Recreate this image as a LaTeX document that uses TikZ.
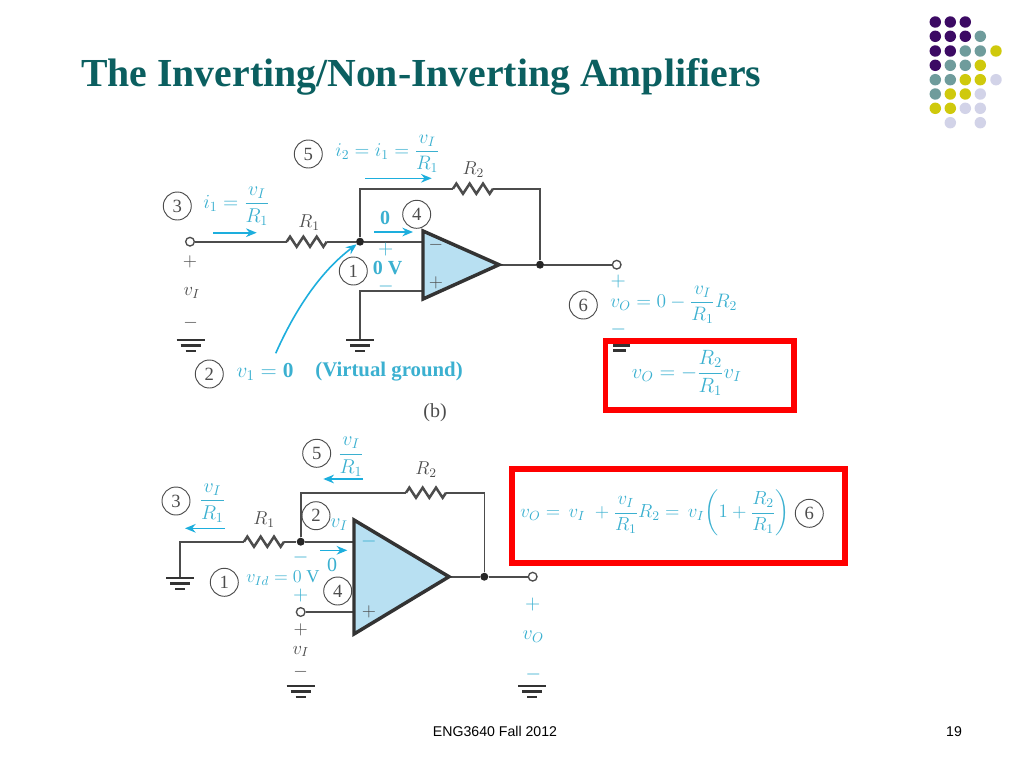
\RequirePackage{fix-cm}
\documentclass[tikz,border=0pt]{standalone}
\usepackage{fontspec}
\usepackage{amsmath}
\setmainfont{Liberation Serif}
\newfontfamily\footfont{Liberation Sans}
\usetikzlibrary{decorations.pathmorphing,arrows.meta}
\definecolor{titleteal}{HTML}{0B5F60}
\definecolor{dkwire}{HTML}{4C4C4C}
\definecolor{cyantext}{HTML}{3BB0D0}
\definecolor{cyanarrow}{HTML}{1DAEDD}
\definecolor{ampfill}{HTML}{B8E0F2}
\definecolor{dpurple}{HTML}{3C0A64}
\definecolor{dteal}{HTML}{6F9C9C}
\definecolor{dyellow}{HTML}{CFC90C}
\definecolor{dlav}{HTML}{D2D3E8}
\tikzset{
  wire/.style={draw=dkwire,line width=1.2pt},
  resist/.style={wire,line width=1.9pt,decorate,decoration={zigzag,segment length=10pt,amplitude=3.8pt}},
  amp/.style={draw=black!80,line width=2.6pt,fill=ampfill,line join=miter},
  curarrow/.style={draw=cyanarrow,line width=1.2pt,-{Stealth[length=8pt,width=6.5pt]}},
  numc/.style={circle,draw=dkwire,line width=0.7pt,minimum size=21pt,inner sep=0pt,text=dkwire,font=\fontsize{14}{15}\selectfont},
  cy/.style={text=cyantext,inner sep=0pt,font=\fontsize{15}{17}\selectfont},
  cyb/.style={text=cyantext,inner sep=0pt,font=\fontsize{15}{17}\selectfont\bfseries},
  dk/.style={text=dkwire,inner sep=0pt,font=\fontsize{14}{16}\selectfont},
  term/.style={circle,draw=dkwire,fill=white,line width=1pt,minimum size=6.5pt,inner sep=0pt},
  junc/.style={circle,fill=black!85,minimum size=6pt,inner sep=0pt},
  redbox/.style={draw=red,line width=4.3pt,line join=miter},
  dot/.style={circle,minimum size=8.6pt,inner sep=0pt},
  gnd/.pic={
    \draw[draw=black!80,line width=2pt] (-14,0) -- (14,0);
    \draw[draw=black!80,line width=2pt] (-10,5.5) -- (10,5.5);
    \draw[draw=black!80,line width=2pt] (-5,11) -- (5,11);
  }
}
\begin{document}
\begin{tikzpicture}[x=0.75pt,y=-0.75pt]
\useasboundingbox (0,0) rectangle (1024,768);
% title and footer
\node[anchor=base west,inner sep=0pt,text=titleteal,font=\fontsize{29.8}{32}\selectfont\bfseries] (title) at (81,86) {The Inverting/Non-Inverting Amplifiers};
\node[anchor=base,inner sep=0pt,font=\fontsize{10.6}{12}\selectfont\footfont] (foot) at (495,736) {ENG3640 Fall 2012};
\node[anchor=base,inner sep=0pt,font=\fontsize{10.6}{12}\selectfont\footfont] (page) at (954,736) {19};
% corner dots
\foreach \c/\x/\y in {dpurple/935.3/22,dpurple/950.3/22,dpurple/965.3/22,
  dpurple/935.3/36.3,dpurple/950.3/36.3,dpurple/965.3/36.3,dteal/980.3/36.3,
  dpurple/935.3/51,dpurple/950.3/51,dteal/965.3/51,dteal/980.3/51,dyellow/996/51,
  dpurple/935.3/65.3,dteal/950.3/65.3,dteal/965.3/65.3,dyellow/980.3/65.3,
  dteal/935.3/79.7,dteal/950.3/79.7,dyellow/965.3/79.7,dyellow/980.3/79.7,dlav/996/79.7,
  dteal/935.3/94,dyellow/950.3/94,dyellow/965.3/94,dlav/980.3/94,
  dyellow/935.3/108.3,dyellow/950.3/108.3,dlav/965.3/108.3,dlav/980.3/108.3,
  dlav/950.3/122.7,dlav/980.3/122.7}
  \node[dot,fill=\c] at (\x,\y) {};
% ---------- top circuit ----------
\node[term] (tin) at (190,241.7) {};
\coordinate (ra) at (286.7,241.7);
\coordinate (rb) at (326.7,241.7);
\node[junc] (tj) at (360,241.7) {};
\coordinate (tminus) at (423,241.7);
\coordinate (tfa) at (360,188.7);
\coordinate (tr2a) at (453,188.7);
\coordinate (tr2b) at (493,188.7);
\coordinate (tfb) at (540,188.7);
\node[junc] (tjo) at (540,264.7) {};
\coordinate (ttip) at (499,264.7);
\node[term] (tout) at (616.7,264.7) {};
\coordinate (tplus) at (423,291);
\coordinate (tgc) at (360,291);
\coordinate (tg) at (360,340);
\draw[wire] (tin) -- (ra);
\draw[resist] (ra) -- (rb);
\draw[wire] (rb) -- (tj) -- (tminus);
\draw[wire] (tj) -- (tfa) -- (tr2a);
\draw[resist] (tr2a) -- (tr2b);
\draw[wire] (tr2b) -- (tfb) -- (tjo);
\draw[wire] (ttip) -- (tjo) -- (tout);
\draw[wire] (tplus) -- (tgc) -- (tg);
\draw[amp] (423,231) -- (ttip) -- (423,299) -- cycle;
\pic at (tg) {gnd};
\pic at (190.7,340) {gnd};
\node[dk] (tm) at (436,245) {$-$};
\node[dk] (tp) at (436,283) {$+$};
\node[dk] (lR1) at (309,223) {$R_1$};
\node[dk] (lR2) at (473.3,170) {$R_2$};
\node[numc] (c5) at (308.3,154) {5};
\node[cy,anchor=west,font=\fontsize{14.6}{17}\selectfont] (e5) at (335,154) {$i_2=i_1=\dfrac{v_I}{R_1}$};
\coordinate (a5a) at (365,178.3); \coordinate (a5b) at (431.7,178.3);
\draw[curarrow] (a5a) -- (a5b);
\node[numc] (c3) at (177.3,206) {3};
\node[cy,anchor=west] (e3) at (203,206) {$i_1=\dfrac{v_I}{R_1}$};
\coordinate (a3a) at (213.3,232.7); \coordinate (a3b) at (256.7,232.7);
\draw[curarrow] (a3a) -- (a3b);
\node[cyb] (l0) at (385,217.7) {0};
\node[numc] (c4) at (416.7,214.3) {4};
\coordinate (a4a) at (374,232); \coordinate (a4b) at (413,232);
\draw[curarrow] (a4a) -- (a4b);
\node[cy] (lp) at (385.7,249) {$+$};
\node[numc] (c1) at (353.3,271) {1};
\node[cyb] (l0v) at (387.5,268) {0 V};
\node[cy] (lm) at (386,286.5) {$-$};
\node[dk] (tvp) at (190,262.3) {$+$};
\node[dk] (tvi) at (191.7,293.3) {$v_I$};
\node[dk] (tvm) at (190.7,322.7) {$-$};
\coordinate (vgs) at (275.7,353.3);
\draw[curarrow] (vgs) .. controls (295,310) and (320,272) .. (tj);
\node[numc] (c2) at (209.3,374) {2};
\node[cy,font=\fontsize{16}{17}\selectfont] (e2) at (265,371.7) {$v_1=\mathbf{0}$};
\node[cyb,font=\fontsize{15.6}{17}\selectfont\bfseries] (e2b) at (389,371.7) {(Virtual ground)};
\node[dk,font=\fontsize{15}{16}\selectfont] (lb) at (435,412.7) {(b)};
\node[cy] (tvop) at (618.3,281) {$+$};
\node[numc] (c6) at (583.3,305) {6};
\node[cy,anchor=west,font=\fontsize{14.6}{17}\selectfont] (e6) at (610,305) {$v_O=0-\dfrac{v_I}{R_1}R_2$};
\node[cy] (tvom) at (618.3,329) {$-$};
\draw[draw=black!80,line width=2pt] (613.3,345.5) -- (630,345.5);
\draw[draw=black!80,line width=2pt] (613.3,350.5) -- (626,350.5);
\draw[redbox] (605.5,341) rectangle (794,410);
\node[cy,font=\fontsize{15.5}{17}\selectfont] (e7) at (686.7,373) {$v_O=-\dfrac{R_2}{R_1}v_I$};
% ---------- bottom circuit ----------
\coordinate (bg1) at (180,578);
\coordinate (bc1) at (180,541.7);
\coordinate (bra) at (244,541.7);
\coordinate (brb) at (284,541.7);
\node[junc] (bj) at (300.7,541.7) {};
\coordinate (bminus) at (354,541.7);
\coordinate (bfa) at (300.7,492.7);
\coordinate (br2a) at (406,492.7);
\coordinate (br2b) at (446,492.7);
\coordinate (bfb) at (484.3,492.7);
\node[junc] (bjo) at (484.3,576.7) {};
\coordinate (btip) at (449,576.7);
\node[term] (bout) at (532.7,576.7) {};
\node[term] (bin) at (300.7,612) {};
\coordinate (bplus) at (354,612);
\draw[wire] (bg1) -- (bc1) -- (bra);
\draw[resist] (bra) -- (brb);
\draw[wire] (brb) -- (bj) -- (bminus);
\draw[wire] (bj) -- (bfa) -- (br2a);
\draw[resist] (br2a) -- (br2b);
\draw[wire] (br2b) -- (bfb) -- (bjo);
\draw[wire] (btip) -- (bjo) -- (bout);
\draw[wire] (bin) -- (bplus);
\draw[amp] (354,520) -- (btip) -- (354,634) -- cycle;
\pic at (bg1) {gnd};
\pic at (300.7,686) {gnd};
\pic at (532.3,686) {gnd};
\node[cy] (bm) at (369,541.7) {$-$};
\node[dk] (bp) at (369,612.3) {$+$};
\node[dk] (bR1) at (264,520) {$R_1$};
\node[dk] (bR2) at (426,470) {$R_2$};
\node[numc] (d5) at (316.7,453.3) {5};
\node[cy] (f5) at (351,456.7) {$\dfrac{v_I}{R_1}$};
\coordinate (b5a) at (363,479); \coordinate (b5b) at (323.3,479);
\draw[curarrow] (b5a) -- (b5b);
\node[numc] (d3) at (176,501) {3};
\node[cy] (f3) at (212.3,503) {$\dfrac{v_I}{R_1}$};
\coordinate (b3a) at (225,528.3); \coordinate (b3b) at (185,528.3);
\draw[curarrow] (b3a) -- (b3b);
\node[numc] (d2) at (316,515.7) {2};
\node[cy] (f2) at (339,525) {$v_I$};
\coordinate (b2a) at (320,550.3); \coordinate (b2b) at (347.3,550.3);
\draw[curarrow] (b2a) -- (b2b);
\node[cy] (bvm) at (300.7,557.3) {$-$};
\node[cy] (b0) at (332,565) {0};
\node[numc] (d1) at (224.3,582.3) {1};
\node[cy,anchor=west,font=\fontsize{13.6}{16}\selectfont] (f1) at (246,577.7) {$v_{Id}=0$ V};
\node[numc] (d4) at (337.7,591) {4};
\node[cy] (bvp) at (300.7,595.7) {$+$};
\node[dk] (bvip) at (300.7,630) {$+$};
\node[dk] (bvi) at (300.7,651.5) {$v_I$};
\node[dk] (bvim) at (300.7,672) {$-$};
\node[cy] (bop) at (532.7,604) {$+$};
\node[cy] (bov) at (533.3,636.7) {$v_O$};
\node[cy] (bom) at (533.3,674.3) {$-$};
\draw[redbox] (512,469) rectangle (845,563);
\node[cy,anchor=west,font=\fontsize{14.2}{16}\selectfont] (f6) at (520,513) {$v_O=\,v_I\;+\dfrac{v_I}{R_1}R_2=\,v_I\!\left(1+\dfrac{R_2}{R_1}\right)$};
\node[numc] (d6) at (809.3,513.3) {6};
\end{tikzpicture}
\end{document}
